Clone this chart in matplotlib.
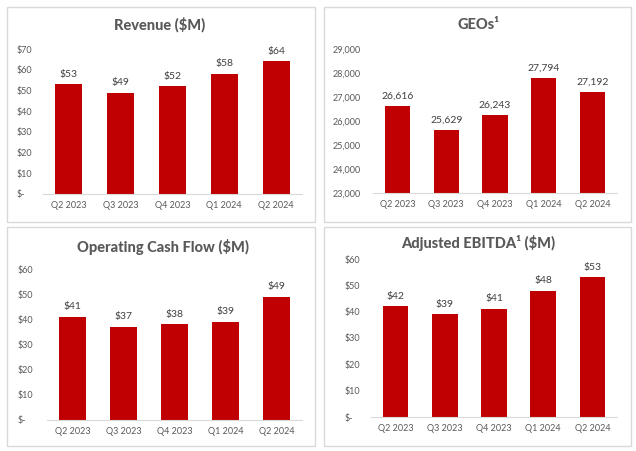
import matplotlib.pyplot as plt
from matplotlib.patches import Rectangle

plt.rcParams['font.family'] = ['Lato', 'DejaVu Sans']

quarters = ["Q2 2023", "Q3 2023", "Q4 2023", "Q1 2024", "Q2 2024"]
revenue = [53, 49, 52, 58, 64]
geos = [26616, 25629, 26243, 27794, 27192]
op_cash_flow = [41, 37, 38, 39, 49]
adj_ebitda = [42, 39, 41, 48, 53]

W, H = 636, 451
RED = "#C00000"
GRAY = "#595959"
DARK = "#404040"

fig = plt.figure(figsize=(W / 100, H / 100), dpi=100)


def px_axes(left, top, right, bottom):
    # pixel box (from top-left) -> figure fraction
    return [left / W, 1 - bottom / H, (right - left) / W, (bottom - top) / H]


def box(left, top, right, bottom):
    fig.patches.append(Rectangle((left / W, 1 - bottom / H), (right - left) / W,
                                 (bottom - top) / H, transform=fig.transFigure,
                                 fill=False, edgecolor="#d9d9d9", linewidth=1))


def panel(rect, values, ymin, ymax, step, ticklab, datalab, title, title_xy, pad):
    ax = fig.add_axes(px_axes(*rect))
    x = range(len(quarters))
    bars = ax.bar(x, [v - ymin for v in values], bottom=ymin, width=0.52, color=RED)
    ax.set_xlim(-0.5, len(quarters) - 0.5)
    ax.set_ylim(ymin, ymax)
    ticks = list(range(ymin, ymax + 1, step))
    ax.set_yticks(ticks, [ticklab(t) for t in ticks])
    ax.set_xticks(list(x), quarters)
    for lbl in ax.get_yticklabels():
        lbl.set_horizontalalignment("left")
    ax.tick_params(axis="y", length=0, pad=pad, labelsize=6.5, labelcolor=GRAY)
    ax.tick_params(axis="x", length=0, pad=5, labelsize=6.5, labelcolor=GRAY)
    for s in ["top", "right", "left"]:
        ax.spines[s].set_visible(False)
    ax.spines["bottom"].set_color("#d9d9d9")
    ax.patch.set_alpha(0)
    for b, v in zip(bars, values):
        ax.annotate(datalab(v), (b.get_x() + b.get_width() / 2, v),
                    xytext=(0, 4), textcoords="offset points",
                    ha="center", va="bottom", fontsize=7.5, color=DARK)
    fig.text(title_xy[0] / W, 1 - title_xy[1] / H, title, ha="center", va="center",
             fontsize=10.5, fontweight="black", color=GRAY)
    return ax


box(7, 7, 315, 222)
box(324, 7, 631, 222)
box(7, 227, 315, 446)
box(324, 227, 631, 446)

dollar = lambda t: "$-" if t == 0 else f"${t}"

panel((43, 49, 302, 194), revenue, 0, 70, 10, dollar, lambda v: f"${v}",
      "Revenue ($M)", (160, 25), 18.7)
panel((373, 49, 617, 193), geos, 23000, 29000, 1000, lambda t: f"{t:,}",
      lambda v: f"{v:,}", "GEOs¹", (478, 25), 28.8)
panel((47, 269, 302, 420), op_cash_flow, 0, 60, 10, dollar, lambda v: f"${v}",
      "Operating Cash Flow ($M)", (163, 247), 20.9)
panel((371, 259, 617, 417), adj_ebitda, 0, 60, 10, dollar, lambda v: f"${v}",
      "Adjusted EBITDA¹ ($M)", (478, 243), 18.7)

fig.savefig("out.png", dpi=100)
